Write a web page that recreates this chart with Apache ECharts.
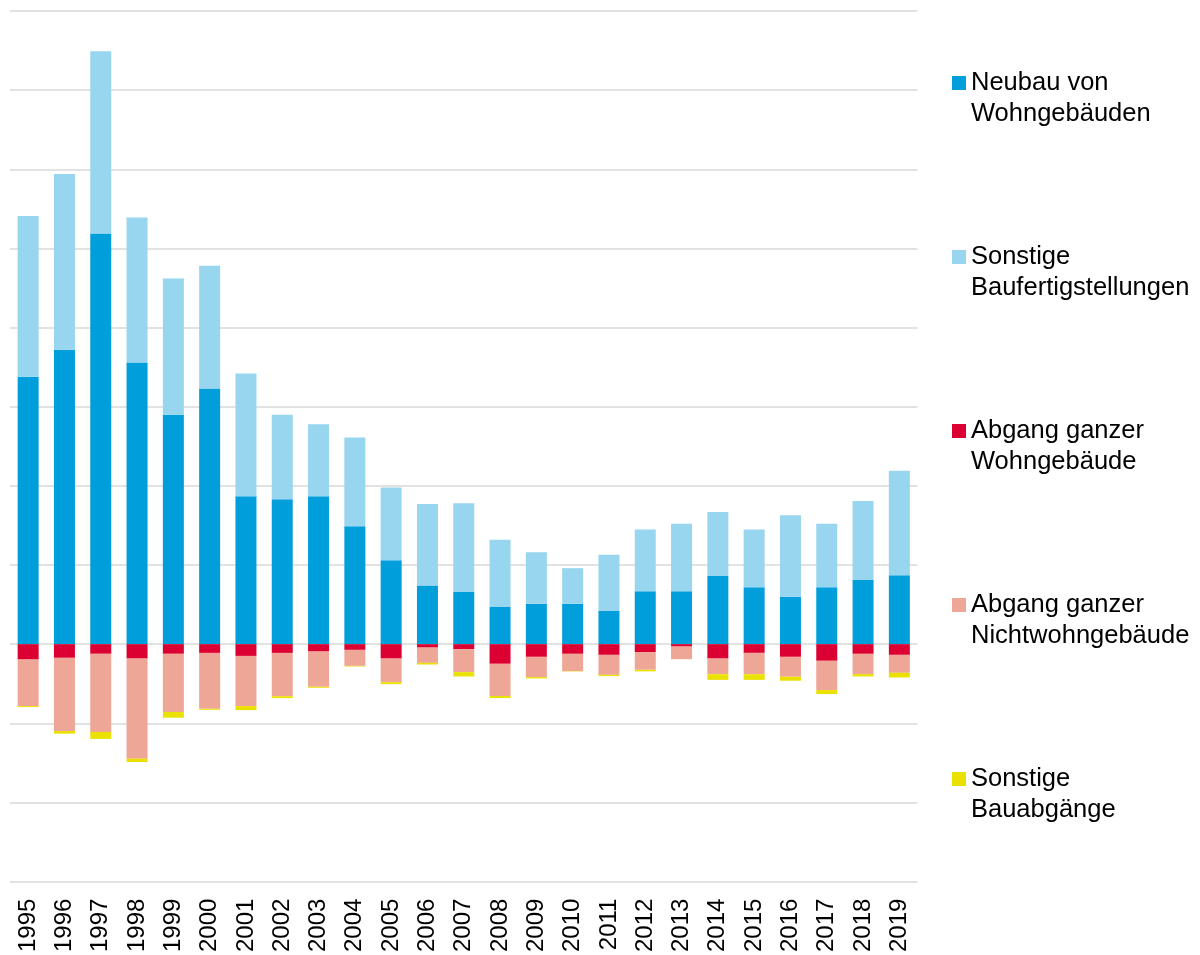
<!DOCTYPE html>
<html>
<head>
<meta charset="utf-8">
<script src="https://cdn.jsdelivr.net/npm/echarts@6/dist/echarts.min.js"></script>
<style>html,body{margin:0;padding:0;background:#fff;}#chart{width:1200px;height:955px;}</style>
</head>
<body>
<div id="chart"></div>
<script>
var years = ['1995','1996','1997','1998','1999','2000','2001','2002','2003','2004','2005','2006','2007','2008','2009','2010','2011','2012','2013','2014','2015','2016','2017','2018','2019'];
var neubauWohn = [33.8,37.2,51.9,35.6,29.0,32.3,18.7,18.3,18.7,14.9,10.6,7.4,6.6,4.7,5.1,5.1,4.2,6.7,6.7,8.6,7.2,6.0,7.2,8.1,8.7];
var sonstigeFertig = [20.3,22.2,23.0,18.3,17.2,15.5,15.5,10.7,9.1,11.2,9.2,10.3,11.2,8.5,6.5,4.5,7.1,7.8,8.5,8.1,7.3,10.3,8.0,10.0,13.2];
var abgangWohn = [-1.94,-1.73,-1.22,-1.82,-1.22,-1.1,-1.48,-1.1,-0.93,-0.72,-1.82,-0.43,-0.63,-2.48,-1.6,-1.22,-1.35,-1.0,-0.3,-1.82,-1.1,-1.6,-2.1,-1.22,-1.35];
var abgangNichtwohn = [-5.88,-9.24,-9.87,-12.65,-7.35,-7.06,-6.35,-5.47,-4.45,-2.02,-2.98,-1.93,-2.9,-4.07,-2.56,-2.18,-2.52,-2.23,-1.6,-1.97,-2.69,-2.52,-3.7,-2.56,-2.27];
var sonstigeAbgaenge = [-0.13,-0.34,-0.88,-0.42,-0.72,-0.13,-0.5,-0.25,-0.13,-0.08,-0.25,-0.21,-0.55,-0.25,-0.17,-0.05,-0.17,-0.21,0,-0.72,-0.72,-0.5,-0.5,-0.3,-0.59];

var seriesDefs = [
  {name:'Neubau von\nWohngebäuden', data:neubauWohn, color:'#009EDB'},
  {name:'Sonstige\nBaufertigstellungen', data:sonstigeFertig, color:'#98D5EF'},
  {name:'Abgang ganzer\nWohngebäude', data:abgangWohn, color:'#DC0032'},
  {name:'Abgang ganzer\nNichtwohngebäude', data:abgangNichtwohn, color:'#EEA696'},
  {name:'Sonstige\nBauabgänge', data:sonstigeAbgaenge, color:'#EBE100'}
];

var chart = echarts.init(document.getElementById('chart'));
chart.setOption({
  animation:false,
  backgroundColor:'#fff',
  grid:{left:10, right:282.5, top:11, bottom:72, containLabel:false},
  legend:{
    orient:'vertical', left:952, top:36.5, padding:0, itemGap:81,
    itemWidth:14, itemHeight:14, icon:'rect',
    formatter:function(n){return ' \n'+n;},
    textStyle:{fontFamily:'Liberation Sans, Arial, sans-serif', fontSize:25.5, color:'#000', lineHeight:31},
    data:seriesDefs.map(function(s){return s.name;})
  },
  xAxis:{
    type:'category', data:years,
    axisLine:{show:false}, axisTick:{show:false},
    axisLabel:{rotate:90, fontFamily:'Liberation Sans, Arial, sans-serif', fontSize:24, color:'#000', margin:17, interval:0}
  },
  yAxis:{
    type:'value', min:-30, max:80, interval:10,
    axisLabel:{show:false}, axisLine:{show:false}, axisTick:{show:false},
    splitLine:{lineStyle:{color:'#D9D9D9', width:1.5}}
  },
  series:seriesDefs.map(function(s){
    return {name:s.name, type:'bar', stack:'total', data:s.data, barWidth:21,
      itemStyle:{color:s.color}, emphasis:{disabled:true}};
  })
});
</script>
</body>
</html>
